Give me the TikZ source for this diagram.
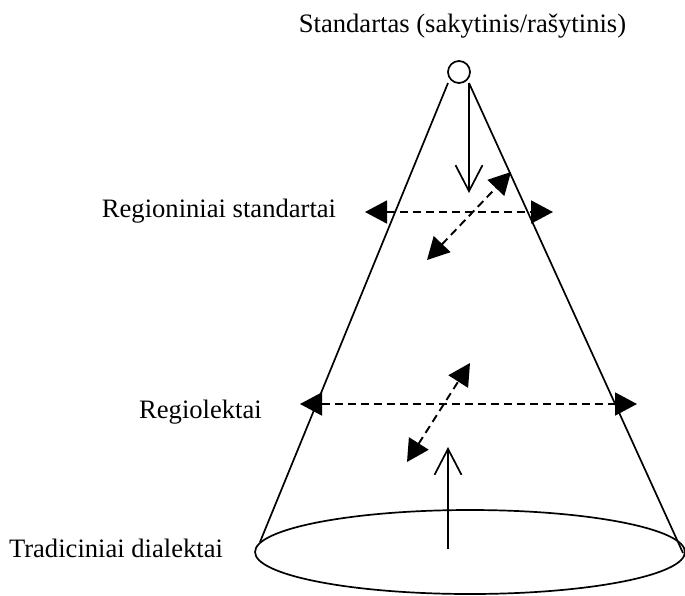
\documentclass[tikz,border=0pt]{standalone}
\usepackage{fontspec}
\setmainfont{Liberation Serif}
\usetikzlibrary{arrows.meta}
\begin{document}
\begin{tikzpicture}[x=1pt,y=-1pt,
  outline/.style={line width=1.7pt, black},
  flow/.style={line width=1.9pt, dash pattern=on 8pt off 5pt,
    {Triangle[length=22pt,width=23pt]}-{Triangle[length=22pt,width=23pt]}},
  push/.style={line width=1.9pt, -{Straight Barb[length=26pt,width=27pt,line width=1.7pt]}},
  label/.style={anchor=base, inner sep=0pt, font=\fontsize{26.6}{30}\selectfont}]
  \useasboundingbox (0,0) rectangle (685,595);

  % apex of the cone and its base
  \node[outline, draw, circle, minimum size=22pt, inner sep=0pt] (apex) at (459,72) {};
  \coordinate (topL) at (448,83);
  \coordinate (topR) at (469,83);
  \coordinate (baseL) at (260,542);
  \coordinate (baseR) at (683,553);
  \draw[outline] (470,552) ellipse [x radius=215, y radius=42];
  \draw[outline] (topL) -- (baseL);
  \draw[outline] (topR) -- (baseR);

  % influence from the standard downwards and from dialects upwards
  \coordinate (downEnd) at (469,193);
  \draw[push] (topR) -- (downEnd);
  \coordinate (upStart) at (448,549);
  \coordinate (upEnd) at (448,447);
  \draw[push] (upStart) -- (upEnd);

  % horizontal and diagonal exchange at each level
  \coordinate (rsL) at (365,212);
  \coordinate (rsR) at (553,212);
  \draw[flow] (rsL) -- (rsR);
  \coordinate (rsA) at (427,260);
  \coordinate (rsB) at (511,172);
  \draw[flow] (rsA) -- (rsB);

  \coordinate (rlL) at (300,404);
  \coordinate (rlR) at (637,404);
  \draw[flow] (rlL) -- (rlR);
  \coordinate (rlA) at (407,462);
  \coordinate (rlB) at (470,363);
  \draw[flow] (rlA) -- (rlB);

  % level names
  \node[label] (std) at (462.5,32) {Standartas (sakytinis/rašytinis)};
  \node[label] (reg) at (219,217) {Regioniniai standartai};
  \node[label] (rgl) at (200.5,418) {Regiolektai};
  \node[label] (dia) at (116,557) {Tradiciniai dialektai};
\end{tikzpicture}
\end{document}
